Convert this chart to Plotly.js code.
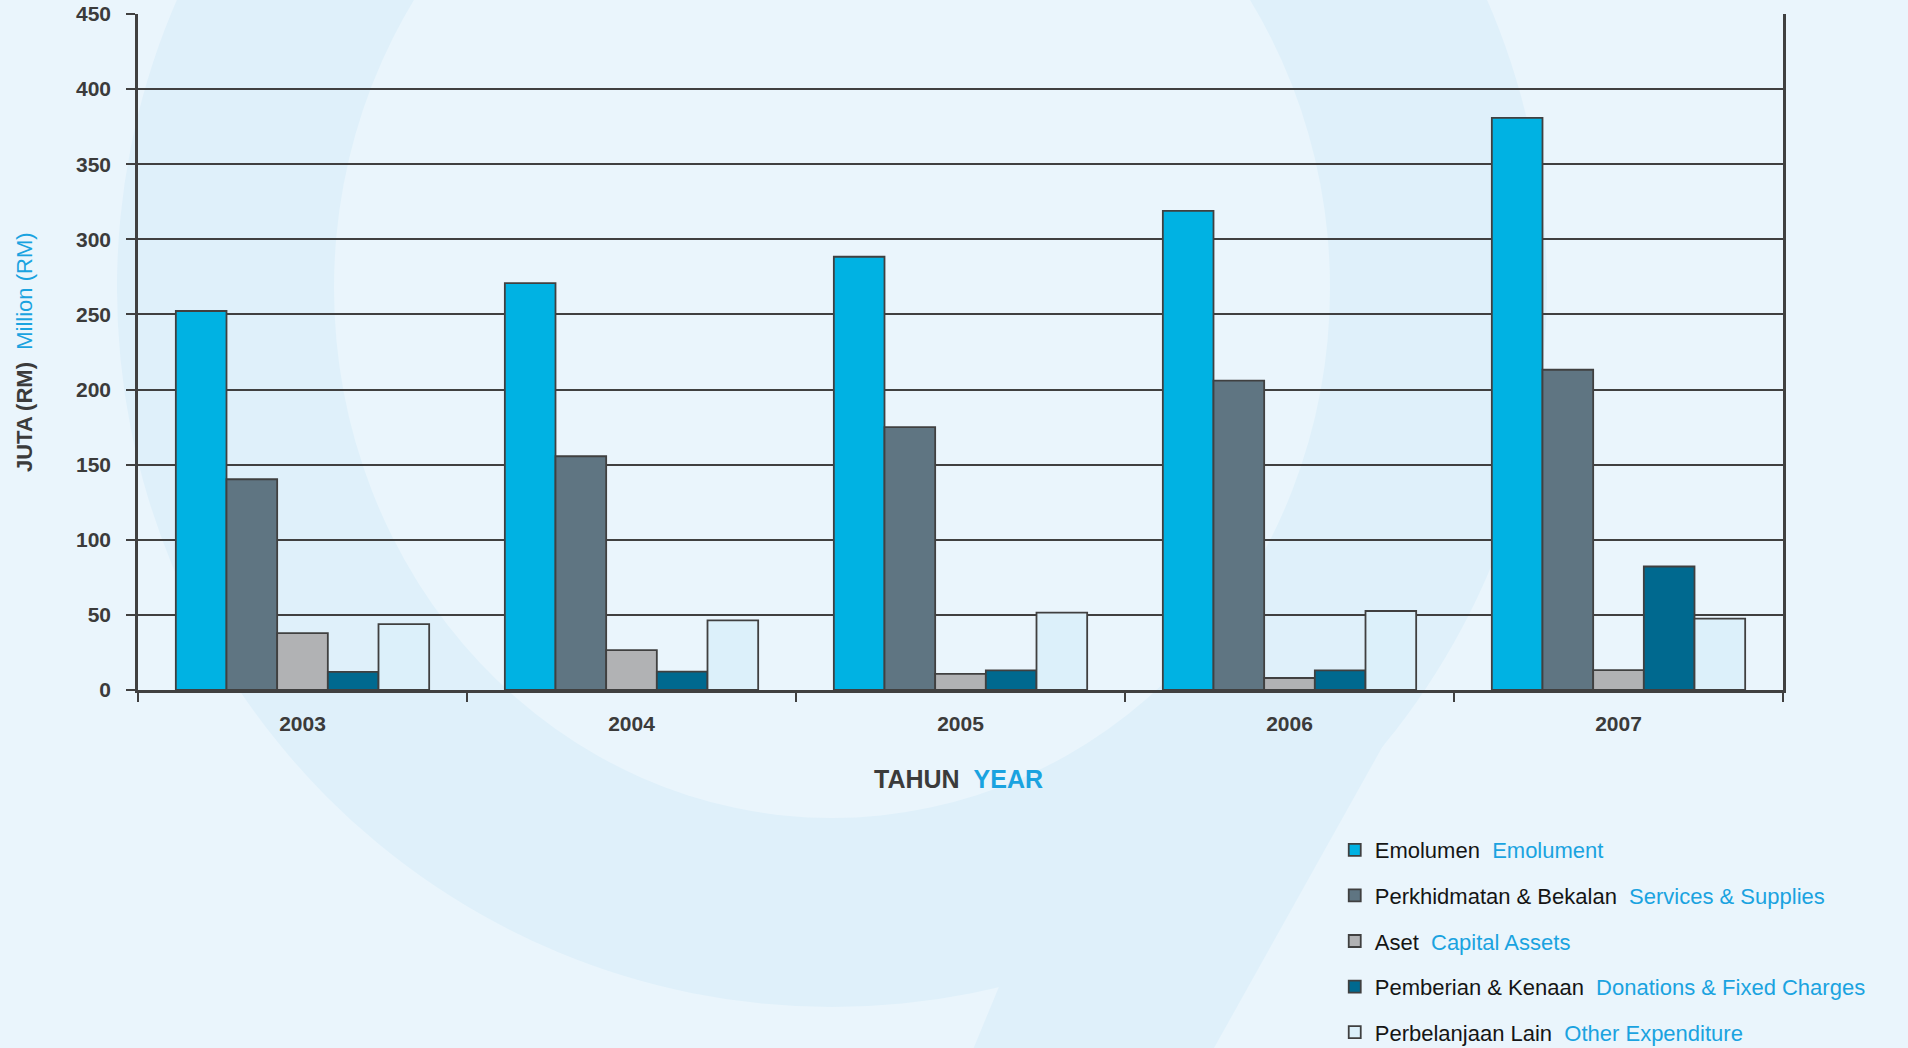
<!DOCTYPE html>
<html>
<head>
<meta charset="utf-8">
<script src="https://cdn.plot.ly/plotly-3.0.1.min.js"></script>
<style>
  html, body { margin: 0; padding: 0; background: #eaf5fc; }
  #chart { width: 1908px; height: 1048px; }
</style>
</head>
<body>
<div id="chart"></div>
<script>
// ---- data ----
const years = ['2003', '2004', '2005', '2006', '2007'];
const emolument = [252.3, 270.9, 288.4, 319.0, 380.9];
const servicesSupplies = [140.3, 155.6, 175.0, 205.9, 213.2];
const capitalAssets = [37.8, 26.6, 10.7, 8.0, 13.2];
const donationsFixed = [12.0, 12.2, 13.1, 13.1, 82.2];
const otherExpenditure = [43.9, 46.4, 51.5, 52.6, 47.5];

const namesMalay = ['Emolumen', 'Perkhidmatan &amp; Bekalan', 'Aset', 'Pemberian &amp; Kenaan', 'Perbelanjaan Lain'];
const namesEnglish = ['Emolument', 'Services &amp; Supplies', 'Capital Assets', 'Donations &amp; Fixed Charges', 'Other Expenditure'];
const seriesValues = [emolument, servicesSupplies, capitalAssets, donationsFixed, otherExpenditure];
const colors = ['#00b2e3', '#5f7582', '#b1b2b4', '#00698f', '#dcf0fa'];

const CYAN = '#1aa3e0';
const DARK = '#3b3b3b';

const traces = seriesValues.map((vals, i) => ({
  type: 'bar',
  x: years,
  y: vals,
  name: namesMalay[i] + '&nbsp;&nbsp;<span style="color:' + CYAN + '">' + namesEnglish[i] + '</span>',
  legendgroup: 'g' + i,
  marker: { color: colors[i], line: { color: '#404040', width: 1.8 } },
  hoverinfo: 'x+y'
}));

const layout = {
  width: 1908,
  height: 1048,
  margin: { l: 138, r: 125, t: 14, b: 358, autoexpand: false },
  paper_bgcolor: '#eaf5fc',
  plot_bgcolor: 'rgba(0,0,0,0)',
  font: { family: 'Liberation Sans, Arial, sans-serif', color: DARK },
  barmode: 'group',
  bargap: 0.23,
  bargroupgap: 0,
  showlegend: true,
  legend: {
    x: 0.7275, xanchor: 'left',
    y: -0.2056, yanchor: 'top',
    orientation: 'v',
    bgcolor: 'rgba(0,0,0,0)',
    font: { size: 22, color: '#151515', family: 'Liberation Sans, Arial, sans-serif' },
    tracegroupgap: 14,
    traceorder: 'grouped'
  },
  xaxis: {
    type: 'category',
    showline: true, linecolor: '#404040', linewidth: 2.5,
    ticks: 'outside', tickson: 'boundaries', ticklen: 9, tickwidth: 2, tickcolor: '#404040',
    tickfont: { size: 21, color: DARK, weight: 700 },
    ticklabelstandoff: 13,
    showgrid: false, zeroline: false,
    fixedrange: true
  },
  yaxis: {
    range: [0, 450], dtick: 50, tick0: 0,
    showline: true, mirror: true, linecolor: '#404040', linewidth: 2.5,
    ticks: 'outside', ticklen: 9, tickwidth: 2, tickcolor: '#404040',
    tickfont: { size: 21, color: DARK, weight: 700 },
    ticklabelstandoff: 11,
    showgrid: true, gridcolor: '#404040', gridwidth: 1.5,
    zeroline: false,
    fixedrange: true
  },
  annotations: [
    {
      xref: 'paper', yref: 'paper', x: -0.0693, y: 0.5,
      xanchor: 'center', yanchor: 'middle', textangle: -90, showarrow: false,
      text: '<b>JUTA (RM)</b>&nbsp;&nbsp;<span style="color:' + CYAN + '">Million (RM)</span>',
      font: { size: 22, color: DARK }
    },
    {
      xref: 'paper', yref: 'paper', x: 0.4985, y: -0.132,
      xanchor: 'center', yanchor: 'middle', showarrow: false,
      text: '<b>TAHUN</b>&nbsp;&nbsp;<b><span style="color:' + CYAN + '">YEAR</span></b>',
      font: { size: 25, color: DARK }
    }
  ],
  shapes: [
    { type: 'circle', xref: 'paper', yref: 'paper', layer: 'below',
      x0: -0.01277, x1: 0.8565, y0: -0.4689, y1: 1.6583,
      fillcolor: '#dff0fa', line: { width: 0 } },
    { type: 'path', xref: 'paper', yref: 'paper', layer: 'below',
      path: 'M 0.50800 -0.52959 L 0.52584 -0.42456 L 0.80973 0.14793 L 0.65410 -0.52959 Z',
      fillcolor: '#dff0fa', line: { width: 0 } },
    { type: 'circle', xref: 'paper', yref: 'paper', layer: 'below',
      x0: 0.11915, x1: 0.72462, y0: -0.18935, y1: 1.3787,
      fillcolor: '#eaf5fc', line: { width: 0 } }
  ]
};

Plotly.newPlot('chart', traces, layout, { displayModeBar: false, staticPlot: false });
</script>
</body>
</html>
